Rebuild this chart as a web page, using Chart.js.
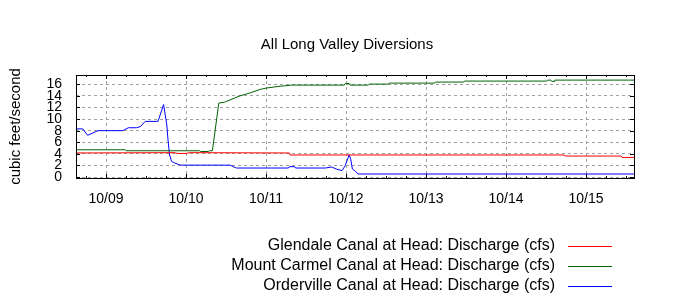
<!DOCTYPE html>
<html>
<head>
<meta charset="utf-8">
<script src="https://cdn.jsdelivr.net/npm/chart.js@4/dist/chart.umd.min.js"></script>
<style>
  html, body { margin: 0; padding: 0; background: #fff; }
  #wrap { width: 700px; height: 300px; }
</style>
</head>
<body>
<div id="wrap"><canvas id="chart" width="700" height="300"></canvas></div>
<script>
// time in days since 10/09 00:00, values in cfs
const glendaleDays = [-0.375, 0.85, 0.9, 1.0, 1.05, 2.29, 2.30, 5.73, 5.74, 6.44, 6.45, 6.6];
const glendaleCfs  = [4.15, 4.2, 4.07, 4.07, 4.2, 4.15, 3.8, 3.8, 3.62, 3.62, 3.38, 3.38];

const carmelDays = [-0.375, 0.24, 0.25, 1.17, 1.18, 1.28, 1.29, 1.33, 1.41, 1.48, 1.675, 1.8, 1.925, 2.0, 2.15, 2.32,
  2.98, 2.99, 3.04, 3.05, 3.28, 3.29, 3.53, 3.54, 4.11, 4.12, 4.47, 4.48, 5.51, 5.52, 5.56, 5.57, 5.6, 5.61, 6.6];
const carmelCfs  = [4.7, 4.7, 4.53, 4.53, 4.4, 4.4, 4.53, 4.53, 12.76, 12.9, 14.0, 14.5, 15.1, 15.34, 15.62, 15.86,
  15.86, 16.14, 16.14, 15.86, 15.86, 16.03, 16.03, 16.2, 16.2, 16.38, 16.38, 16.55, 16.55, 16.72, 16.72, 16.5, 16.5, 16.72, 16.72];

const ordervilleDays = [-0.375, -0.29, -0.23, -0.10, 0.21, 0.28, 0.38, 0.43, 0.49, 0.65, 0.72, 0.76, 0.775, 0.795, 0.82, 0.86,
  0.93, 1.55, 1.63, 2.28, 2.29, 2.36, 2.37, 2.74, 2.82, 2.88, 2.95, 2.99, 3.04, 3.06, 3.08, 3.11, 3.15, 6.6];
const ordervilleCfs  = [8.3, 8.3, 7.2, 8.0, 8.0, 8.5, 8.5, 8.7, 9.6, 9.6, 12.5, 9.0, 6.4, 3.8, 2.7, 2.4,
  2.05, 2.05, 1.55, 1.55, 1.78, 1.78, 1.55, 1.55, 1.72, 1.38, 1.09, 1.95, 3.85, 3.0, 1.38, 1.09, 0.52, 0.52];

const dayLabels = ['10/09', '10/10', '10/11', '10/12', '10/13', '10/14', '10/15'];
const yTicks = [0, 2, 4, 6, 8, 10, 12, 14, 16];

const chartTitle = 'All Long Valley Diversions';
const seriesNames = [
  'Glendale Canal at Head: Discharge (cfs)',
  'Mount Carmel Canal at Head: Discharge (cfs)',
  'Orderville Canal at Head: Discharge (cfs)'
];
const seriesColors = ['#ff0000', '#006400', '#0000ff'];

const FONT = "'Liberation Sans', Arial, sans-serif";
const toPoints = (xs, ys) => xs.map((x, i) => ({ x: x, y: ys[i] }));

// frame + inward tick marks like gnuplot
const framePlugin = {
  id: 'frame',
  afterDatasetsDraw(chart) {
    const { ctx, chartArea: a, scales } = chart;
    ctx.save();
    ctx.strokeStyle = '#000';
    ctx.lineWidth = 1;
    ctx.beginPath();
    scales.x.ticks.forEach(t => {
      const px = Math.round(scales.x.getPixelForValue(t.value)) + 0.5;
      const len = Number.isInteger(t.value) ? 4 : 2;
      ctx.moveTo(px, a.bottom); ctx.lineTo(px, a.bottom - len);
      ctx.moveTo(px, a.top); ctx.lineTo(px, a.top + len);
    });
    scales.y.ticks.forEach(t => {
      const py = Math.round(scales.y.getPixelForValue(t.value)) + 0.5;
      ctx.moveTo(a.left, py); ctx.lineTo(a.left + 4, py);
      ctx.moveTo(a.right, py); ctx.lineTo(a.right - 4, py);
    });
    ctx.stroke();
    ctx.strokeRect(Math.round(a.left) + 0.5, Math.round(a.top) + 0.5,
      Math.round(a.right - a.left), Math.round(a.bottom - a.top));
    ctx.restore();
  }
};

// title (gnuplot centres it a bit right of the plot centre) and key below the plot
const textPlugin = {
  id: 'texts',
  afterDraw(chart) {
    const ctx = chart.ctx;
    ctx.save();
    ctx.fillStyle = '#000';
    ctx.textBaseline = 'middle';
    ctx.font = '15px ' + FONT;
    ctx.textAlign = 'center';
    ctx.fillText(chartTitle, 347, 45);

    ctx.font = '16px ' + FONT;
    ctx.textAlign = 'right';
    chart.data.datasets.forEach((ds, i) => {
      const y = 246 + i * 20;
      ctx.fillStyle = '#000';
      ctx.fillText(ds.label, 555, y);
      ctx.strokeStyle = ds.borderColor;
      ctx.lineWidth = 1;
      ctx.beginPath();
      ctx.moveTo(568, y + 0.5);
      ctx.lineTo(612, y + 0.5);
      ctx.stroke();
    });
    ctx.restore();
  }
};

new Chart(document.getElementById('chart'), {
  type: 'line',
  data: {
    datasets: [
      { label: seriesNames[0], data: toPoints(glendaleDays, glendaleCfs), borderColor: seriesColors[0] },
      { label: seriesNames[1], data: toPoints(carmelDays, carmelCfs), borderColor: seriesColors[1] },
      { label: seriesNames[2], data: toPoints(ordervilleDays, ordervilleCfs), borderColor: seriesColors[2] }
    ]
  },
  options: {
    responsive: false,
    animation: false,
    devicePixelRatio: 1,
    layout: { padding: { left: 0, right: 66, top: 75, bottom: 82 } },
    elements: {
      line: { borderWidth: 1, tension: 0, fill: false },
      point: { radius: 0 }
    },
    plugins: {
      legend: { display: false },
      tooltip: { enabled: false },
      title: { display: false }
    },
    scales: {
      x: {
        type: 'linear',
        min: -0.375,
        max: 6.6,
        afterBuildTicks: s => {
          const t = [];
          for (let q = -1; q <= 26; q++) t.push({ value: q / 4 });
          s.ticks = t;
        },
        afterFit: s => { s.height = 40; },
        ticks: {
          autoSkip: false,
          maxRotation: 0,
          padding: 13,
          color: '#000',
          font: { family: FONT, size: 14 },
          callback: v => Number.isInteger(v) && dayLabels[v] !== undefined ? dayLabels[v] : ''
        },
        grid: {
          drawTicks: false,
          color: c => (c.tick && Number.isInteger(c.tick.value)) ? '#a0a0a0' : 'rgba(0,0,0,0)'
        },
        border: { display: false, dash: [3, 3] }
      },
      y: {
        min: -0.17,
        max: 17.6,
        afterBuildTicks: s => { s.ticks = yTicks.map(v => ({ value: v })); },
        afterFit: s => { s.width = 76; },
        ticks: {
          autoSkip: false,
          padding: 14,
          color: '#000',
          font: { family: FONT, size: 14 }
        },
        grid: { drawTicks: false, color: '#a0a0a0' },
        border: { display: false, dash: [3, 3] },
        title: {
          display: true,
          text: 'cubic feet/second',
          color: '#000',
          font: { family: FONT, size: 15 },
          padding: { top: 7, bottom: 0 }
        }
      }
    }
  },
  plugins: [framePlugin, textPlugin]
});
</script>
</body>
</html>
